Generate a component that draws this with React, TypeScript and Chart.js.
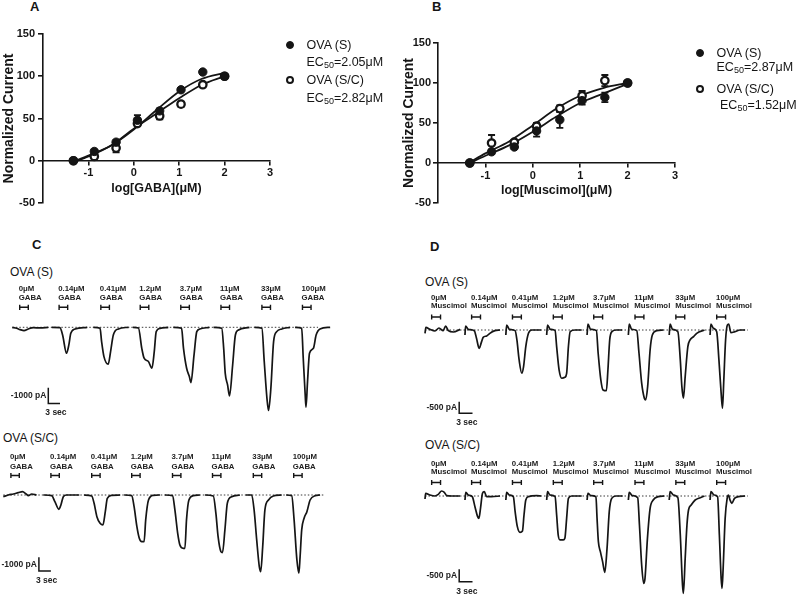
import React, { useEffect, useRef } from 'react';
import { Chart, registerables } from 'chart.js';

Chart.register(...registerables);

const FONT = '"Liberation Sans", Arial, Helvetica, sans-serif';
const INK = '#151515';

// ---------- Panels A & B : concentration-response ----------
const LOG_CONC = [-1.33, -0.87, -0.39, 0.08, 0.57, 1.04, 1.52, 2.0];
const X_TICKS = [-1, 0, 1, 2, 3];
const Y_TICKS = [-50, 0, 50, 100, 150];

const A_S_MEAN = [0, 11, 22, 48, 59, 84, 105, 100];
const A_S_ERR = [0, 2, 2, 6, 3, 2, 0, 0];
const A_SC_MEAN = [0, 5, 15, 44, 53, 67, 90, 100];
const A_SC_ERR = [0, 2, 5, 3, 4, 3, 2, 0];
const CURVE_X = [-1.33, -1, -0.5, 0, 0.5, 1, 1.5, 2];
const A_S_FIT = [-1, 6, 18, 37, 60, 82, 97, 104];
const A_SC_FIT = [-2, 5, 18, 38, 56, 74, 90, 100];

const B_S_MEAN = [0, 14, 20, 40, 54, 78, 82, 100];
const B_S_ERR = [0, 3, 2, 7, 10, 5, 6, 0];
const B_SC_MEAN = [0, 25, 26, 46, 68, 84, 103, 100];
const B_SC_ERR = [0, 10, 2, 4, 4, 6, 7, 0];
const B_S_FIT = [0, 9, 22, 39, 58, 75, 87, 99];
const B_SC_FIT = [1, 12, 27, 47, 68, 84, 94, 100];

// ---------- Panels C & D : current traces (time s, current pA) ----------
const CONC = ['0μM', '0.14μM', '0.41μM', '1.2μM', '3.7μM', '11μM', '33μM', '100μM'];

const C_S_ONSETS = [0, 10.1, 20.8, 30.9, 41.3, 51.6, 62.1, 72.5];
const C_S_SWEEPS = [
  [[0, 0], [1.1, -64], [2.0, -150], [3.0, -212], [4.1, -106], [5.4, -21], [7.1, -42], [9.2, 0]],
  [[0, 0], [2.1, -21], [2.8, -488], [3.8, -1650], [4.4, -1123], [4.9, -382], [6.0, -106], [9.1, 0]],
  [[0, 0], [1.7, -64], [2.1, -912], [2.7, -1870], [3.8, -2350], [4.4, -1550], [5.1, -490], [6.4, -106], [9.0, 0]],
  [[0, 0], [1.45, -42], [2.3, -1340], [2.9, -1970], [4.0, -2180], [4.9, -2610], [5.5, -1550], [6.0, -276], [7.0, -64], [9.1, 0]],
  [[0, 0], [2.1, -64], [2.6, -1340], [3.4, -2610], [4.1, -3140], [4.5, -3520], [5.3, -1760], [6.0, -276], [6.8, -106], [9.2, 0]],
  [[0, 0], [2.1, -64], [2.6, -1340], [3.0, -2930], [3.6, -3670], [4.1, -4370], [4.9, -2400], [5.6, -490], [6.4, -170], [9.2, 0]],
  [[0, 0], [1.9, -64], [2.5, -2180], [3.2, -4540], [3.6, -5300], [4.2, -3880], [4.9, -910], [5.7, -276], [7.0, -106], [9.1, 0]],
  [[0, 0], [1.7, -64], [2.1, -1970], [2.6, -4300], [2.8, -5090], [3.2, -3460], [3.7, -1650], [4.7, -1340], [5.4, -490], [6.4, -106], [9.0, 0]],
];

const C_SC_ONSETS = [0, 10, 20.2, 30.2, 40.4, 50.4, 60.6, 70.7];
const C_SC_SWEEPS = [
  [[0, -122], [1.25, 0], [2.5, 73], [3.75, 170], [4.8, 243], [5.7, 73], [6.25, -49], [7.1, 73], [8.3, 0]],
  [[0, 0], [2.1, -49], [2.9, -486], [3.9, -1045], [4.4, -729], [5.0, -122], [5.8, 0], [9.0, 0]],
  [[0, 0], [1.9, -73], [2.5, -608], [3.2, -1580], [4.0, -2070], [4.7, -2190], [5.3, -1215], [5.8, -243], [6.9, -24], [9.0, 0]],
  [[0, 0], [1.9, -49], [2.5, -850], [3.2, -2310], [3.8, -3160], [4.4, -3400], [5.0, -3400], [5.4, -1820], [6.1, -365], [7.3, -24], [9.0, 0]],
  [[0, 0], [1.9, -49], [2.5, -1090], [3.2, -2800], [3.75, -3650], [4.6, -3890], [5.0, -3890], [5.4, -1820], [6.0, -365], [7.1, -49], [8.75, 0]],
  [[0, 0], [2.1, -73], [2.75, -1340], [3.3, -3040], [4.0, -4130], [4.4, -4200], [5.0, -2550], [5.6, -608], [6.7, -122], [8.75, 0]],
  [[0, 0], [1.5, 0], [2.1, -1090], [2.75, -3280], [3.4, -5220], [3.75, -5590], [4.25, -3770], [4.8, -1090], [5.7, -365], [6.9, -73], [9.0, 0]],
  [[0, 0], [1.4, -49], [2.0, -1820], [2.7, -4740], [3.2, -5710], [3.5, -4500], [3.9, -2550], [4.5, -1700], [5.2, -1215], [6.0, -365], [7.25, -49], [8.5, 0]],
];

const D_ONSETS = [0, 9.0, 18.2, 27.4, 36.5, 45.8, 55.0, 64.2];
const D_S_SWEEPS = [
  [[0, -142], [0.2, 114], [1.1, 28], [2.25, -43], [3.15, 85], [4.1, -28], [4.65, 170], [5.25, -28], [6.4, -85], [7.9, 28]],
  [[0, -213], [0.15, 170], [0.75, 28], [2.1, -28], [2.6, -355], [3.2, -781], [3.75, -497], [4.1, -312], [4.9, -256], [5.6, -142], [6.75, -28], [7.9, 0]],
  [[0, -213], [0.2, 213], [0.8, 28], [2.1, -28], [2.5, -426], [3.0, -1278], [3.6, -1846], [4.0, -1562], [4.5, -710], [5.1, -142], [5.85, 0], [7.95, 0]],
  [[0, -213], [0.2, 213], [0.8, 28], [1.9, -28], [2.25, -710], [2.8, -1700], [3.4, -2060], [4.1, -2020], [4.5, -1850], [4.9, -710], [5.3, -71], [6.4, 0], [7.9, 0]],
  [[0, -213], [0.2, 256], [0.8, 28], [2.1, -28], [2.5, -994], [3.1, -2130], [3.6, -2560], [4.35, -2590], [4.7, -1700], [5.1, -426], [5.6, -71], [6.6, 0], [7.9, 0]],
  [[0, -213], [0.2, 256], [0.75, 28], [1.9, -28], [2.4, -994], [3.0, -2270], [3.6, -2910], [3.9, -2980], [4.35, -2410], [4.9, -852], [5.4, -213], [6.4, -28], [7.9, 0]],
  [[0, -213], [0.2, 256], [0.75, 28], [1.95, -71], [2.5, -1278], [2.85, -2410], [3.2, -2910], [3.6, -1990], [4.2, -710], [4.7, -426], [5.5, -284], [6.2, -142], [7.95, 0]],
  [[0, -213], [0.2, 256], [0.75, 71], [1.5, -71], [2.0, -1278], [2.5, -2700], [2.8, -3340], [3.1, -2130], [3.5, -426], [3.9, 213], [4.2, 256], [4.7, -114], [5.6, -71], [6.75, 0], [7.9, 0]],
];
const D_SC_SWEEPS = [
  [[0, -122], [0.15, 108], [1.1, 41], [2.25, 0], [3.0, 68], [3.75, 203], [4.35, 149], [4.9, 14], [6.0, 0], [7.9, 0]],
  [[0, -162], [0.2, 149], [0.75, 41], [1.65, -27], [2.25, -432], [2.85, -837], [3.15, -905], [3.5, -500], [3.95, 108], [4.35, 176], [4.9, -27], [6.0, -27], [7.9, 0]],
  [[0, -162], [0.2, 149], [0.8, 41], [1.7, -27], [2.1, -635], [2.6, -1242], [3.2, -1472], [3.75, -1418], [4.1, -770], [4.5, -162], [5.1, -27], [6.95, 14], [7.95, 0]],
  [[0, -162], [0.2, 176], [0.75, 41], [1.9, -27], [2.25, -770], [2.6, -1580], [3.0, -1780], [3.75, -1780], [4.1, -1715], [4.5, -905], [4.9, -95], [5.6, 0], [7.9, 0]],
  [[0, -162], [0.2, 108], [0.9, 14], [2.0, -27], [2.25, -905], [2.55, -1850], [3.0, -2255], [3.5, -2660], [4.0, -3090], [4.5, -2120], [5.0, -635], [5.55, -95], [6.5, 0], [8.0, 0]],
  [[0, -162], [0.2, 149], [0.9, 14], [2.1, -68], [2.5, -1175], [3.0, -2795], [3.45, -3540], [3.75, -3335], [4.3, -1715], [4.9, -500], [5.6, -162], [6.75, -27], [8.1, 0]],
  [[0, -162], [0.2, 176], [0.95, 41], [1.95, -68], [2.5, -1580], [3.0, -3610], [3.2, -3940], [3.6, -2525], [4.0, -1175], [4.35, -567], [4.95, -365], [5.85, -162], [7.0, -68], [7.95, 0]],
  [[0, -162], [0.2, 176], [0.9, 41], [1.7, -27], [2.1, -1580], [2.5, -3335], [2.7, -3740], [2.95, -2930], [3.4, -905], [3.85, -95], [4.15, 41], [4.5, -162], [4.9, -297], [5.5, -95], [6.4, -27], [7.9, 0]],
];

// scale bars: [amplitude pA, duration s]
const C_SCALE = [1000, 3];
const D_SCALE = [500, 3];

// ---------- components ----------
function DoseChart(p: any) {
  const ref = useRef<HTMLCanvasElement>(null);
  useEffect(() => {
    const pts = (ys: number[]) => LOG_CONC.map((x, i) => ({ x, y: ys[i] }));
    const fit = (ys: number[]) => CURVE_X.map((x, i) => ({ x, y: ys[i] }));
    const errPlugin = {
      id: 'errbars',
      beforeDatasetsDraw(chart: any) {
        const ctx = chart.ctx;
        const xs = chart.scales.x;
        const ys = chart.scales.y;
        ctx.save();
        ctx.strokeStyle = INK;
        ctx.lineWidth = 1.8;
        chart.data.datasets.forEach((ds: any) => {
          if (!ds.errors) return;
          ds.data.forEach((pt: any, i: number) => {
            const e = ds.errors[i];
            if (!e) return;
            const x = xs.getPixelForValue(pt.x);
            const y1 = ys.getPixelForValue(pt.y + e);
            const y2 = ys.getPixelForValue(pt.y - e);
            ctx.beginPath();
            ctx.moveTo(x, y1); ctx.lineTo(x, y2);
            ctx.moveTo(x - 3.5, y1); ctx.lineTo(x + 3.5, y1);
            ctx.moveTo(x - 3.5, y2); ctx.lineTo(x + 3.5, y2);
            ctx.stroke();
          });
        });
        ctx.restore();
      },
    };
    const tickFont = { family: FONT, size: 11, weight: 'bold' };
    const lineDs = (ys: number[]) => ({
      data: fit(ys), showLine: true, pointRadius: 0, borderColor: INK, borderWidth: 1.8,
      cubicInterpolationMode: 'monotone', fill: false,
    });
    const chart = new Chart(ref.current as HTMLCanvasElement, {
      type: 'line',
      data: {
        datasets: [
          { data: pts(p.sMean), errors: p.sErr, showLine: false, pointRadius: 4.2, pointBorderWidth: 1, pointBackgroundColor: INK, pointBorderColor: INK },
          { data: pts(p.scMean), errors: p.scErr, showLine: false, pointRadius: 3.7, pointBorderWidth: 2.3, pointBackgroundColor: '#fff', pointBorderColor: INK },
          lineDs(p.sFit),
          lineDs(p.scFit),
        ] as any,
      },
      options: {
        responsive: false,
        animation: false,
        events: [],
        layout: { padding: { left: 0, top: p.padTop, right: p.padRight, bottom: p.padBottom } },
        plugins: { legend: { display: false }, tooltip: { enabled: false } },
        scales: {
          x: {
            type: 'linear', min: -2, max: 3, position: { y: 0 },
            afterBuildTicks: (s: any) => { s.ticks = [{ value: -2 }, ...X_TICKS.map((v) => ({ value: v }))]; },
            grid: {
              drawOnChartArea: false, drawTicks: true, tickLength: 4, lineWidth: 1.6,
              color: (c: any) => (c.tick && c.tick.value === -2 ? 'rgba(0,0,0,0)' : INK),
            },
            border: { display: true, color: INK, width: 1.6 },
            ticks: {
              color: INK, font: tickFont, padding: 2, maxRotation: 0, autoSkip: false,
              callback: (v: any) => (v === -2 ? '' : String(v)),
            },
            title: { display: true, text: p.xTitle, color: INK, font: { family: FONT, size: 12.5, weight: 'bold', lineHeight: 1 }, padding: 0 },
          },
          y: {
            type: 'linear', min: -50, max: 150,
            afterFit: (s: any) => { s.width = p.yWidth; },
            afterBuildTicks: (s: any) => { s.ticks = Y_TICKS.map((v) => ({ value: v })); },
            grid: { drawOnChartArea: false, drawTicks: true, tickLength: 5, color: INK, lineWidth: 1.6 },
            border: { display: true, color: INK, width: 1.6 },
            ticks: { color: INK, font: tickFont, padding: p.yTickPad },
            title: { display: true, text: 'Normalized Current', color: INK, font: { family: FONT, size: 14, weight: 'bold' }, padding: { top: 1, bottom: 0 } },
          },
        },
      } as any,
      plugins: [errPlugin],
    });
    return () => chart.destroy();
  }, []);
  return <canvas ref={ref} width={p.width} height={p.height} style={{ position: 'absolute', left: p.left, top: p.top }} />;
}

function TraceRow(p: any) {
  const ref = useRef<HTMLCanvasElement>(null);
  useEffect(() => {
    const xMin = (p.left - p.x0Px) / p.pxPerSec;
    const xMax = (p.left + p.width - p.x0Px) / p.pxPerSec;
    const yMax = (p.basePx - p.top) * p.paPerPx;
    const yMin = -(p.top + p.height - p.basePx) * p.paPerPx;
    const datasets: any[] = [];
    p.sweeps.forEach((sw: number[][], i: number) => {
      datasets.push({
        data: sw.map(([t, v]) => ({ x: p.onsets[i] + t, y: v })),
        borderColor: INK, borderWidth: 1.7, pointRadius: 0, cubicInterpolationMode: 'monotone', fill: false,
      });
    });
    datasets.push({
      data: [{ x: 0, y: 0 }, { x: p.baseEnd, y: 0 }],
      borderColor: '#3a3a3a', borderWidth: 1, borderDash: [1.5, 2], pointRadius: 0, fill: false,
    });
    const [amp, sec] = p.scale;
    const b = p.bar;
    datasets.push({
      data: [{ x: b.t, y: b.top }, { x: b.t, y: b.top - amp }, { x: b.t + sec, y: b.top - amp }],
      borderColor: INK, borderWidth: 1.5, pointRadius: 0, tension: 0, fill: false,
    });
    const annot = {
      id: 'annot',
      afterDatasetsDraw(chart: any) {
        const ctx = chart.ctx;
        const xs = chart.scales.x;
        const ys = chart.scales.y;
        const y0 = ys.getPixelForValue(0);
        ctx.save();
        ctx.fillStyle = '#222';
        ctx.textBaseline = 'middle';
        ctx.textAlign = 'left';
        ctx.font = `bold 7.8px ${FONT}`;
        ctx.strokeStyle = INK;
        ctx.lineWidth = 1.4;
        p.onsets.forEach((on: number, i: number) => {
          const x = xs.getPixelForValue(on + p.labelOffset);
          ctx.fillText(CONC[i], x, y0 + p.labelDy[0]);
          ctx.fillText(p.drug, x, y0 + p.labelDy[1]);
          const bx1 = xs.getPixelForValue(on + p.bracket[0]);
          const bx2 = xs.getPixelForValue(on + p.bracket[1]);
          const by = y0 + p.labelDy[2];
          ctx.beginPath();
          ctx.moveTo(bx1, by); ctx.lineTo(bx2, by);
          ctx.moveTo(bx1, by - 2.6); ctx.lineTo(bx1, by + 2.6);
          ctx.moveTo(bx2, by - 2.6); ctx.lineTo(bx2, by + 2.6);
          ctx.stroke();
        });
        const bx = xs.getPixelForValue(b.t);
        ctx.font = `bold 8.5px ${FONT}`;
        ctx.textAlign = 'right';
        ctx.fillText(`-${amp} pA`, bx - 2, ys.getPixelForValue(b.top - amp / 2));
        ctx.textAlign = 'left';
        ctx.fillText(`${sec} sec`, bx - 3, ys.getPixelForValue(b.top - amp) + 9.5);
        ctx.restore();
      },
    };
    const chart = new Chart(ref.current as HTMLCanvasElement, {
      type: 'line',
      data: { datasets },
      options: {
        responsive: false,
        animation: false,
        events: [],
        layout: { padding: 0 },
        plugins: { legend: { display: false }, tooltip: { enabled: false } },
        scales: {
          x: { type: 'linear', display: false, min: xMin, max: xMax },
          y: { type: 'linear', display: false, min: yMin, max: yMax },
        },
      } as any,
      plugins: [annot],
    });
    return () => chart.destroy();
  }, []);
  return <canvas ref={ref} width={p.width} height={p.height} style={{ position: 'absolute', left: p.left, top: p.top }} />;
}

function Txt({ x, y, size = 12.5, bold = false, children }: any) {
  return (
    <div style={{
      position: 'absolute', left: x, top: y - size * 0.6, fontSize: size, lineHeight: `${size * 1.2}px`,
      fontWeight: bold ? 'bold' : 'normal', whiteSpace: 'nowrap', color: INK,
    }}>{children}</div>
  );
}

function Marker({ x, y, filled }: any) {
  const r = filled ? 4 : 4.2;
  return (
    <div style={{
      position: 'absolute', left: x - r, top: y - r, width: 2 * r, height: 2 * r, borderRadius: '50%',
      boxSizing: 'border-box', background: filled ? INK : '#fff', border: `${filled ? 1 : 2.2}px solid ${INK}`,
    }} />
  );
}

function EC({ v }: any) {
  return (
    <span>EC<span style={{ fontSize: '0.72em', position: 'relative', top: '0.3em' }}>50</span>={v}μM</span>
  );
}

export default function App() {
  return (
    <div style={{
      position: 'fixed', left: 0, top: 0, width: 800, height: 599, background: '#fff', overflow: 'hidden',
      fontFamily: FONT, color: INK,
    }}>
      <Txt x={30} y={7} size={13} bold>A</Txt>
      <Txt x={432} y={7} size={13} bold>B</Txt>
      <Txt x={32} y={245} size={13} bold>C</Txt>
      <Txt x={430} y={247} size={13} bold>D</Txt>

      <DoseChart left={0} top={0} width={400} height={230} padTop={34} padRight={130} padBottom={27} yWidth={43} yTickPad={3}
        xTitle="log[GABA](μM)" sMean={A_S_MEAN} sErr={A_S_ERR} scMean={A_SC_MEAN} scErr={A_SC_ERR} sFit={A_S_FIT} scFit={A_SC_FIT} />
      <DoseChart left={400} top={0} width={400} height={230} padTop={43} padRight={125} padBottom={27} yWidth={38} yTickPad={2}
        xTitle="log[Muscimol](μM)" sMean={B_S_MEAN} sErr={B_S_ERR} scMean={B_SC_MEAN} scErr={B_SC_ERR} sFit={B_S_FIT} scFit={B_SC_FIT} />

      <Marker x={290} y={45} filled />
      <Txt x={306.5} y={45}>OVA (S)</Txt>
      <Txt x={306.5} y={62}><EC v="2.05" /></Txt>
      <Marker x={290} y={80} />
      <Txt x={306.5} y={80}>OVA (S/C)</Txt>
      <Txt x={306.5} y={98}><EC v="2.82" /></Txt>

      <Marker x={700} y={53} filled />
      <Txt x={716.5} y={53}>OVA (S)</Txt>
      <Txt x={716.5} y={67}><EC v="2.87" /></Txt>
      <Marker x={700} y={89} />
      <Txt x={716.5} y={89}>OVA (S/C)</Txt>
      <Txt x={720} y={105}><EC v="1.52" /></Txt>

      <Txt x={10} y={272} size={12}>OVA (S)</Txt>
      <Txt x={3} y={438} size={12}>OVA (S/C)</Txt>
      <Txt x={425} y={282} size={12}>OVA (S)</Txt>
      <Txt x={425} y={445} size={12}>OVA (S/C)</Txt>

      <TraceRow left={0} top={280} width={345} height={142} x0Px={12.3} pxPerSec={3.9} basePx={327.3} paPerPx={63.7}
        sweeps={C_S_SWEEPS} onsets={C_S_ONSETS} baseEnd={78.4} drug="GABA" labelOffset={1.65} bracket={[1.9, 4.1]}
        labelDy={[-38, -29, -20]} scale={C_SCALE} bar={{ t: 9.23, top: -3850 }} />
      <TraceRow left={0} top={445} width={345} height={145} x0Px={3.3} pxPerSec={4} basePx={495} paPerPx={73}
        sweeps={C_SC_SWEEPS} onsets={C_SC_ONSETS} baseEnd={80.4} drug="GABA" labelOffset={1.65} bracket={[1.9, 4.0]}
        labelDy={[-38, -28.5, -19.5]} scale={C_SCALE} bar={{ t: 8.9, top: -4550 }} />
      <TraceRow left={415} top={290} width={345} height={140} x0Px={425} pxPerSec={4.44} basePx={330} paPerPx={42.7}
        sweeps={D_S_SWEEPS} onsets={D_ONSETS} baseEnd={72.7} drug="Muscimol" labelOffset={1.35} bracket={[1.5, 3.5]}
        labelDy={[-32, -24, -13]} scale={D_SCALE} bar={{ t: 7.7, top: -3060 }} />
      <TraceRow left={415} top={455} width={345} height={144} x0Px={425} pxPerSec={4.44} basePx={496} paPerPx={40.5}
        sweeps={D_SC_SWEEPS} onsets={D_ONSETS} baseEnd={72.7} drug="Muscimol" labelOffset={1.35} bracket={[1.5, 3.5]}
        labelDy={[-32.5, -24, -13.5]} scale={D_SCALE} bar={{ t: 7.7, top: -2970 }} />
    </div>
  );
}
